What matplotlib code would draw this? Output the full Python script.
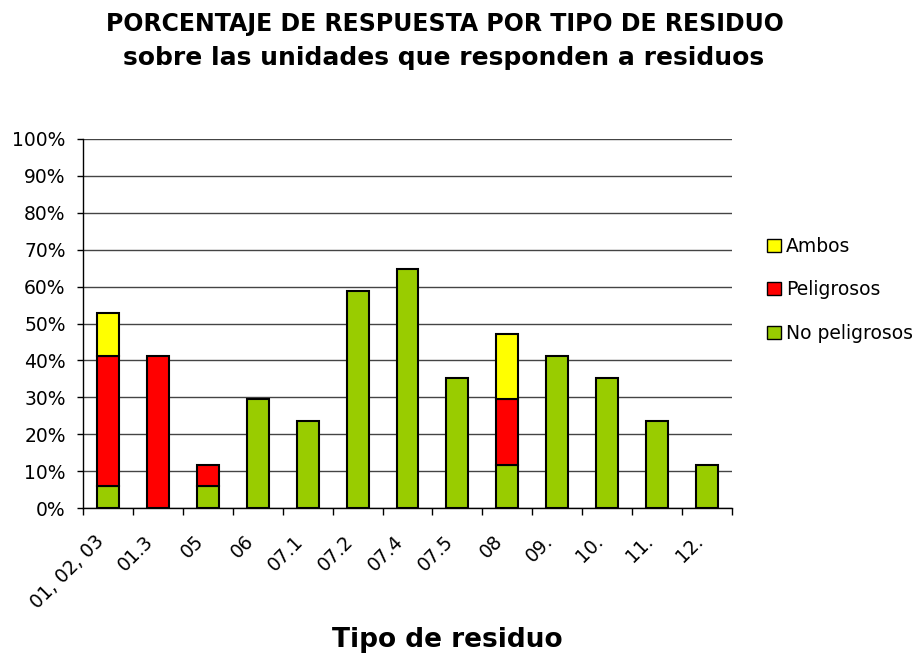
import numpy as np
import matplotlib.pyplot as plt
import matplotlib.transforms as mtransforms
from matplotlib.patches import Patch

plt.rcParams['font.family'] = ['DejaVu Sans']

# datos (porcentaje sobre 17 unidades)
categorias = ['01, 02, 03', '01.3', '05', '06', '07.1', '07.2', '07.4',
              '07.5', '08', '09.', '10.', '11.', '12.']
no_peligrosos = [5.88, 0, 5.88, 29.41, 23.53, 58.82, 64.71, 35.29, 11.76,
                 41.18, 35.29, 23.53, 11.76]
peligrosos = [35.29, 41.18, 5.88, 0, 0, 0, 0, 0, 17.65, 0, 0, 0, 0]
ambos = [11.76, 0, 0, 0, 0, 0, 0, 0, 17.65, 0, 0, 0, 0]

verde = '#99CC00'
rojo = '#FF0000'
amarillo = '#FFFF00'

fig = plt.figure(figsize=(9.2, 6.54), dpi=100)
ax = fig.add_axes([83/920, 1 - 508/654, 649/920, 369/654])

x = np.arange(len(categorias))
np_ = np.array(no_peligrosos)
pe = np.array(peligrosos)
am = np.array(ambos)
w = 0.44
kw = dict(width=w, edgecolor='black', linewidth=1.5, zorder=3)

# only draw non-zero segments so empty ones don't show as black lines
m = np_ > 0
ax.bar(x[m], np_[m], color=verde, **kw)
m = pe > 0
ax.bar(x[m], pe[m], bottom=np_[m], color=rojo, **kw)
m = am > 0
ax.bar(x[m], am[m], bottom=(np_ + pe)[m], color=amarillo, **kw)

ax.set_xlim(-0.5, len(categorias) - 0.5)
ax.set_ylim(0, 100)
ax.set_yticks(np.arange(0, 101, 10))
ax.set_yticklabels([f'{v}%' for v in range(0, 101, 10)], fontsize=13.5)
ax.yaxis.grid(True, color='#444444', linewidth=1.0, zorder=0)
ax.tick_params(axis='y', length=4.5, width=1, direction='out', pad=8)

# x ticks between categories, labels centered under bars
ax.set_xticks(np.arange(-0.5, len(categorias), 1))
ax.set_xticklabels([])
ax.set_xticks(x, minor=True)
ax.set_xticklabels(categorias, minor=True, rotation=45, ha='right',
                   rotation_mode='anchor', fontsize=13.5)
ax.tick_params(axis='x', which='major', length=5, width=1, direction='out')
ax.tick_params(axis='x', which='minor', length=0, pad=17)
shift = mtransforms.ScaledTranslation(-14/100, 0, fig.dpi_scale_trans)
for lab in ax.get_xticklabels(minor=True):
    lab.set_transform(lab.get_transform() + shift)

for s in ['top', 'right']:
    ax.spines[s].set_visible(False)
ax.spines['left'].set_linewidth(1)
ax.spines['bottom'].set_linewidth(1)

fig.text(447/920, 1 - 647/654, 'Tipo de residuo', ha='center', va='baseline',
         fontsize=19, fontweight='bold')

fig.text(445/920, 1 - 31.5/654, 'PORCENTAJE DE RESPUESTA POR TIPO DE RESIDUO',
         ha='center', va='baseline', fontsize=17, fontweight='bold')
fig.text(444/920, 1 - 65/654, 'sobre las unidades que responden a residuos',
         ha='center', va='baseline', fontsize=18, fontweight='bold')

handles = [Patch(facecolor=amarillo, edgecolor='black', label='Ambos'),
           Patch(facecolor=rojo, edgecolor='black', label='Peligrosos'),
           Patch(facecolor=verde, edgecolor='black', label='No peligrosos')]
fig.legend(handles=handles, loc='center left', bbox_to_anchor=(760/920, 1 - 290/654),
           frameon=False, fontsize=13.5, handlelength=0.7, handleheight=0.7,
           handletextpad=0.3, labelspacing=1.3, borderaxespad=0)

fig.savefig('out.png', dpi=100)
plt.close('all')
